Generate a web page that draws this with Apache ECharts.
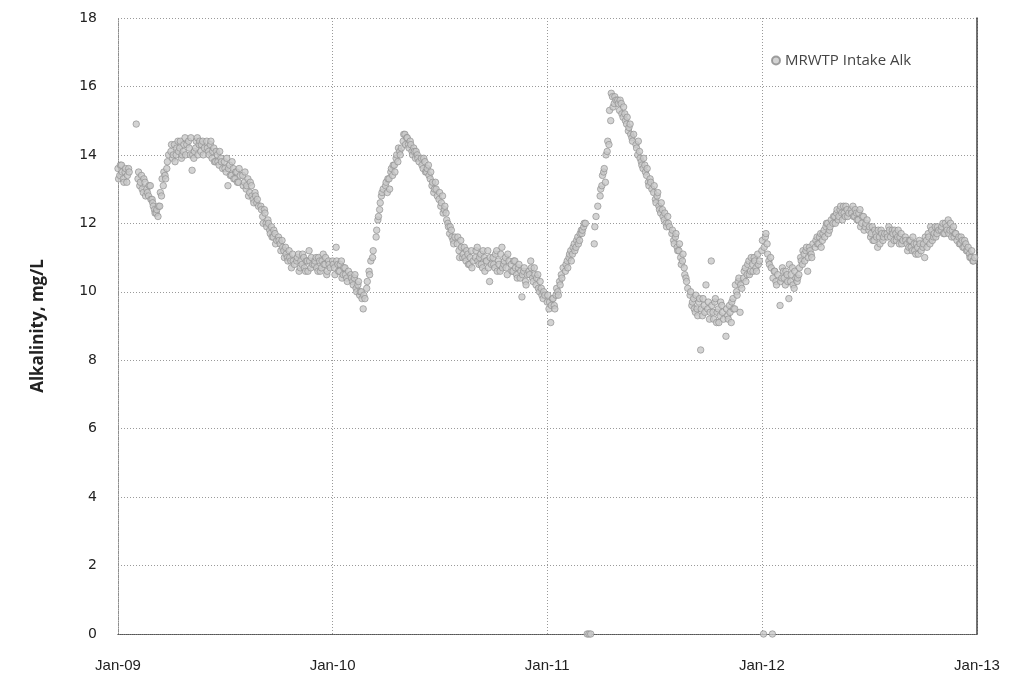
<!DOCTYPE html>
<html>
<head>
<meta charset="utf-8">
<script src="https://cdn.jsdelivr.net/npm/echarts@6/dist/echarts.min.js"></script>
<style>
  html, body { margin: 0; padding: 0; background: #fff; }
  #chart { width: 1013px; height: 687px; }
</style>
</head>
<body>
<div id="chart"></div>
<script>
// Intake alkalinity (mg/L). Two sets of readings per month, taken on these days.
const sampleDaysA = [1, 4, 7, 10, 13, 16, 19, 22, 25, 28];
const sampleDaysB = [2, 5, 8, 11, 14, 17, 20, 23, 26];

// One row per month, Jan..Dec; null = no reading that day
const alk2009A = [
  [13.6, 13.4, 13.7, 13.3, 13.5, 13.2, 13.6, null, null, null],
  [14.9, 13.3, 13.1, 13.4, 12.9, 13.2, 13.0, 12.8, 13.1, 12.7],
  [12.6, 12.4, 12.3, 12.2, 12.5, 12.8, 13.1, 13.4, 13.6, 14.0],
  [14.1, 13.9, 14.3, 14.0, 14.4, 14.2, 13.9, 14.1, 14.5, 14.3],
  [14.4, 14.0, 13.55, 13.9, 14.2, 14.5, 14.3, 14.1, 14.4, 14.2],
  [14.4, 14.1, 14.3, 13.9, 14.2, 13.8, 14.0, 13.7, 13.9, 13.6],
  [13.8, 13.5, 13.1, 13.7, 13.4, 13.6, 13.3, 13.5, 13.2, 13.4],
  [13.4, 13.2, 13.0, 13.3, 12.9, 13.1, 12.7, 12.9, 12.6, 12.5],
  [12.5, 12.2, 12.4, 12.0, 12.1, 11.8, 11.9, 11.6, 11.7, 11.5],
  [11.6, 11.4, 11.5, 11.2, 11.3, 11.0, 11.2, 10.9, 11.1, 10.8],
  [10.9, 11.1, 10.7, 10.8, 11.0, 10.6, 10.9, 11.2, 10.7, 10.8],
  [10.8, 11.0, 10.6, 10.9, 10.7, 11.1, 10.8, 10.5, 10.9, 10.7]
];
const alk2009B = [
  [13.3, 13.7, 13.5, 13.2, 13.6, 13.4, 13.5, null, null],
  [null, 13.5, 13.2, 13.0, 13.3, 12.8, 12.9, 13.1, 12.7],
  [12.5, 12.3, 12.4, 12.5, 12.9, 13.3, 13.5, 13.3, 13.8],
  [14.3, 14.0, 13.8, 14.2, 14.1, 14.4, 14.0, 14.3, 14.0],
  [14.2, 14.5, 14.0, 14.1, 14.4, 14.0, 14.4, 14.3, 14.0],
  [14.2, 14.0, 14.4, 14.1, 13.8, 14.1, 13.8, 14.1, 13.8],
  [13.6, 13.9, 13.6, 13.4, 13.8, 13.3, 13.5, 13.2, 13.6],
  [13.1, 13.5, 13.1, 12.8, 13.2, 12.8, 12.6, 12.8, 12.7],
  [12.4, 12.0, 12.3, 11.9, 12.0, 11.7, 11.6, 11.8, 11.4],
  [11.5, 11.2, 11.3, 11.0, 11.1, 10.9, 11.0, 10.7, 10.9],
  [11.0, 10.6, 10.9, 11.1, 10.7, 10.9, 10.6, 10.9, 11.0],
  [10.9, 10.7, 11.0, 10.6, 10.9, 10.8, 11.0, 10.6, 10.8]
];
const alk2010A = [
  [10.9, 10.7, 11.3, 10.8, 10.6, 10.9, 10.5, 10.7, 10.4, 10.6],
  [10.5, 10.3, 10.4, 10.1, 10.2, 9.9, 10.0, 9.5, 9.8, 10.1],
  [10.3, 10.6, 10.9, 11.0, null, 11.6, 12.1, 12.4, 12.8, 13.0],
  [13.1, 12.9, 13.3, 13.5, 13.4, 13.7, 13.9, 13.8, 14.1, 14.2],
  [14.4, 14.6, 14.5, 14.3, 14.4, 14.1, 14.2, 13.9, 14.0, 13.8],
  [13.9, 13.6, 13.8, 13.5, 13.7, 13.3, 13.1, 12.9, 13.2, 12.8],
  [12.7, 12.5, 12.8, 12.4, 12.3, 12.0, 11.7, 11.8, 11.5, 11.6],
  [11.4, 11.2, 11.5, 11.0, 11.3, 10.9, 11.1, 10.8, 11.2, 10.9],
  [11.0, 11.3, 10.8, 11.1, 10.7, 11.0, 10.9, 11.2, 10.3, 10.8],
  [11.0, 10.7, 11.2, 10.9, 10.6, 11.3, 10.8, 11.0, 10.5, 10.9],
  [10.8, 10.6, 10.9, 10.5, 10.7, 10.4, 9.85, 10.6, 10.3, 10.5],
  [10.6, 10.9, 10.4, 10.7, 10.2, 10.5, 10.0, 10.1, 9.8, 9.9]
];
const alk2010B = [
  [10.8, 10.5, 10.9, 10.6, 10.8, 10.4, 10.7, 10.5, 10.3],
  [10.4, 10.2, 10.5, 10.0, 10.3, 10.0, 9.8, 9.9, null],
  [null, 10.5, null, 11.2, null, 11.8, 12.2, 12.6, 12.9],
  [13.2, 13.3, 13.0, 13.6, 13.7, 13.5, 14.0, 14.2, 14.0],
  [14.6, 14.3, 14.5, 14.2, 14.3, 14.0, 14.1, 14.1, 13.9],
  [13.7, 13.9, 13.5, 13.6, 13.4, 13.5, 13.2, 13.0, 13.0],
  [12.9, 12.6, 12.3, 12.5, 12.1, 11.9, 11.9, 11.6, 11.4],
  [11.6, 11.0, 11.3, 11.1, 11.0, 11.2, 10.8, 11.0, 10.7],
  [11.2, 10.9, 11.0, 10.8, 11.2, 10.6, 10.9, 10.7, 11.0],
  [10.8, 11.1, 10.6, 10.8, 11.1, 10.7, 10.9, 10.7, 11.1],
  [10.6, 10.9, 10.7, 10.4, 10.8, 10.6, 10.5, 10.7, 10.2],
  [10.5, 10.7, 10.3, 10.5, 10.4, 10.1, 10.3, 9.9, 10.0]
];
const alk2011A = [
  [9.7, 9.5, 9.1, 9.8, 9.6, 9.9, 10.0, 10.3, 10.5, 10.7],
  [10.6, 10.9, 11.0, 11.2, 11.1, 11.4, 11.3, 11.6, 11.5, 11.8],
  [11.7, 11.9, 12.0, 0, 0, 0, null, 11.4, 12.2, 12.5],
  [12.8, 13.1, 13.5, 13.2, 14.1, 14.3, 15.0, 15.7, 15.5, 15.6],
  [15.6, 15.3, 15.5, 15.1, 15.2, 14.9, 14.7, 14.9, 14.5, 14.6],
  [14.3, 14.0, 14.1, 13.8, 13.6, 13.7, 13.4, 13.2, 13.3, 13.0],
  [12.9, 12.7, 12.8, 12.5, 12.3, 12.4, 12.1, 12.0, 12.2, 11.9],
  [11.7, 11.5, 11.6, 11.3, 11.2, 11.0, 10.9, 10.7, 10.4, 10.1],
  [9.9, 9.6, 9.8, 9.4, 9.5, 9.7, 8.3, 9.3, 9.6, 10.2],
  [9.5, 9.2, 10.9, 9.4, 9.7, 9.1, 9.5, 9.3, 9.6, 9.2],
  [8.7, 9.3, 9.6, 9.1, 9.8, 9.5, 10.0, 10.3, 9.4, 10.1],
  [10.4, 10.7, 10.5, 10.9, 10.6, 10.8, 11.0, 10.7, 11.1, 10.9]
];
const alk2011B = [
  [9.9, 9.7, 9.6, 9.8, 9.5, 10.1, 9.9, 10.2, 10.4],
  [10.8, 10.7, 11.1, 10.9, 11.3, 11.2, 11.5, 11.4, 11.7],
  [11.8, 12.0, null, null, null, null, null, 11.9, null],
  [13.0, 13.4, 13.6, 14.0, 14.4, 15.3, 15.8, 15.4, 15.7],
  [15.5, 15.6, 15.2, 15.4, 15.0, 15.1, 14.8, 14.6, 14.4],
  [14.2, 14.4, 13.9, 13.7, 13.9, 13.5, 13.6, 13.1, 13.2],
  [13.1, 12.6, 12.9, 12.4, 12.6, 12.2, 12.3, 11.9, 12.0],
  [11.8, 11.4, 11.7, 11.2, 11.4, 10.8, 11.1, 10.5, 10.3],
  [10.0, 9.7, 9.5, 9.9, 9.3, 9.8, 9.5, 9.8, 9.4],
  [9.7, 9.4, 9.6, 9.2, 9.8, 9.4, 9.1, 9.7, 9.4],
  [9.5, 9.2, 9.4, 9.7, 9.5, 10.2, 9.9, 10.4, 10.2],
  [10.6, 10.3, 10.8, 10.5, 11.0, 10.6, 10.9, 10.6, 10.8]
];
const alk2012A = [
  [11.2, 0, 11.6, 11.4, 10.9, 11.0, 0, 10.6, 10.3, 10.5],
  [9.6, 10.4, 10.6, 10.2, 10.5, 9.8, 10.3, 10.7, 10.1, 10.4],
  [10.3, 10.5, 11.0, 10.8, 11.1, 11.2, 10.6, 11.3, 11.1, 11.4],
  [11.3, 11.6, 11.4, 11.7, 11.5, 11.8, 11.9, 12.0, 11.8, 12.1],
  [12.0, 12.2, 12.3, 12.1, 12.4, 12.3, 12.5, 12.2, 12.4, 12.3],
  [12.4, 12.5, 12.2, 12.3, 12.1, 12.4, 12.0, 12.2, 11.9, 12.1],
  [11.8, 11.6, 11.9, 11.5, 11.7, 11.3, 11.6, 11.8, 11.5, 11.7],
  [11.7, 11.9, 11.6, 11.8, 11.5, 11.7, 11.6, 11.4, 11.7, 11.5],
  [11.6, 11.4, 11.3, 11.5, 11.2, 11.4, 11.1, 11.3, 11.5, 11.2],
  [11.3, 11.0, 11.5, 11.7, 11.4, 11.8, 11.6, 11.9, 11.7, 11.8],
  [11.8, 12.0, 11.7, 11.9, 12.1, 11.8, 11.6, 11.9, 11.7, 11.5],
  [11.6, 11.4, 11.5, 11.3, 11.4, 11.2, 11.1, 11.0, 10.9, 11.0]
];
const alk2012B = [
  [11.5, 11.3, 11.7, 11.1, 10.8, 10.7, 10.4, 10.6, 10.2],
  [10.3, 10.7, 10.4, 10.6, 10.3, 10.8, 10.5, 10.2, 10.6],
  [10.4, 10.7, 10.9, 11.2, 10.9, 11.3, 11.0, 11.2, 11.0],
  [11.5, 11.4, 11.6, 11.3, 11.7, 11.6, 12.0, 11.7, 11.9],
  [12.2, 12.0, 12.4, 12.2, 12.5, 12.1, 12.3, 12.5, 12.2],
  [12.3, 12.2, 12.4, 12.1, 12.3, 11.9, 12.2, 11.8, 12.0],
  [11.9, 11.7, 11.5, 11.8, 11.6, 11.8, 11.4, 11.7, 11.6],
  [11.6, 11.8, 11.4, 11.7, 11.8, 11.5, 11.8, 11.6, 11.4],
  [11.5, 11.2, 11.5, 11.3, 11.6, 11.2, 11.4, 11.1, 11.4],
  [11.4, 11.6, 11.3, 11.6, 11.9, 11.5, 11.7, 11.6, 11.9],
  [11.9, 11.7, 12.0, 11.8, 11.7, 12.0, 11.8, 11.6, 11.7],
  [11.4, 11.6, 11.3, 11.5, 11.2, 11.3, 11.0, 11.2, 10.9]
];

const years = [2009, 2010, 2011, 2012];
const readingsA = [alk2009A, alk2010A, alk2011A, alk2012A];
const readingsB = [alk2009B, alk2010B, alk2011B, alk2012B];
const yTicks = [0, 2, 4, 6, 8, 10, 12, 14, 16, 18];
const yearLabels = ['Jan-09', 'Jan-10', 'Jan-11', 'Jan-12', 'Jan-13'];

// Flatten the monthly rows into [timestamp, value] pairs
function collect(sets, days, out) {
  sets.forEach((rows, yi) => {
    rows.forEach((row, m) => {
      row.forEach((v, k) => {
        if (v === null) return;
        out.push([new Date(years[yi], m, days[k]).getTime(), v]);
      });
    });
  });
  return out;
}
const points = [];
collect(readingsA, sampleDaysA, points);
collect(readingsB, sampleDaysB, points);
points.sort((a, b) => a[0] - b[0]);

const xMin = new Date(2009, 0, 1).getTime();
const xMax = new Date(2013, 0, 1).getTime();
const axisFont = '"Liberation Sans Narrow", "Liberation Sans", sans-serif';
const gridLine = { show: true, lineStyle: { color: '#9a9a9a', type: [1, 2], width: 1 } };

const chart = echarts.init(document.getElementById('chart'), null, { renderer: 'canvas' });
chart.setOption({
  animation: false,
  backgroundColor: '#ffffff',
  grid: { left: 118, right: 36, top: 18, bottom: 53, containLabel: false },
  legend: {
    left: 766, top: 48,
    itemWidth: 8, itemHeight: 8, itemGap: 4,
    data: [{ name: 'MRWTP Intake Alk', icon: 'circle' }],
    textStyle: { fontFamily: '"Open Sans", sans-serif', fontSize: 15, color: '#444' }
  },
  xAxis: [{
    type: 'time',
    min: xMin, max: xMax,
    minInterval: 365 * 24 * 3600 * 1000,
    maxInterval: 366 * 24 * 3600 * 1000,
    axisLine: { show: true, lineStyle: { color: '#8c8c8c', type: [1, 1] } },
    axisTick: { show: false },
    splitLine: gridLine,
    axisLabel: {
      margin: 24,
      fontFamily: axisFont, fontSize: 15, color: '#222',
      showMinLabel: true, showMaxLabel: true,
      formatter: (val) => {
        const i = new Date(val).getFullYear() - years[0];
        return yearLabels[i] || '';
      }
    }
  }, {
    type: 'time', position: 'top',
    min: xMin, max: xMax,
    axisLine: { show: true, lineStyle: { color: '#555', type: [1, 1] } },
    axisTick: { show: false }, axisLabel: { show: false }, splitLine: { show: false }
  }],
  yAxis: [{
    type: 'value', min: yTicks[0], max: yTicks[yTicks.length - 1], interval: 2,
    name: 'Alkalinity, mg/L', nameLocation: 'middle', nameGap: 71, nameRotate: 90,
    nameTextStyle: { fontFamily: '"Open Sans", sans-serif', fontWeight: 'bold', fontSize: 17, color: '#222' },
    axisLine: { show: true, lineStyle: { color: '#8c8c8c', type: [1, 1] } },
    axisTick: { show: false },
    splitLine: gridLine,
    axisLabel: { margin: 21, fontFamily: '"DejaVu Sans", sans-serif', fontSize: 14, color: '#222' }
  }, {
    type: 'value', position: 'right', min: yTicks[0], max: yTicks[yTicks.length - 1], interval: 2,
    axisLine: { show: true, lineStyle: { color: '#444', width: 1.5 } },
    axisTick: { show: false }, axisLabel: { show: false }, splitLine: { show: false }
  }],
  series: [{
    name: 'MRWTP Intake Alk',
    type: 'scatter',
    symbol: 'circle',
    symbolSize: 6.5,
    itemStyle: { color: '#c8c8c8', borderColor: '#8a8a8a', borderWidth: 0.8 },
    data: points
  }]
});
</script>
</body>
</html>
